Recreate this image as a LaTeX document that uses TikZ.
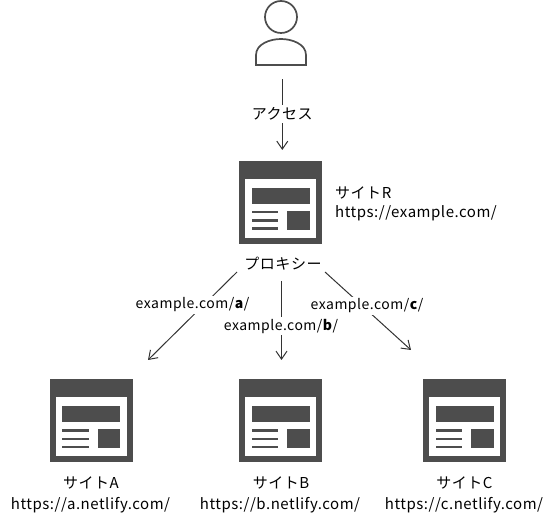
\documentclass[tikz,border=0pt]{standalone}
\usepackage{fontspec}
\setmainfont[LetterSpace=3.5]{Noto Sans CJK JP}
\usepackage{xcolor}
\usetikzlibrary{arrows.meta}
\definecolor{icongray}{HTML}{4D4D4D}
\definecolor{linegray}{HTML}{333333}
\tikzset{
  sitebox/.style={minimum width=83pt, minimum height=83pt, inner sep=0pt, outer sep=0pt},
  sitetext/.style={inner sep=0pt, yshift=-1.5pt, font=\fontsize{15}{18}\selectfont},
  pathlabel/.style={fill=white, inner sep=0pt, yshift=-1pt, minimum height=18pt, font=\fontsize{14}{17}\selectfont},
  connector/.style={draw=linegray, line width=1pt},
  arrowline/.style={connector, -{Straight Barb[length=8pt,width=11pt]}},
  sitepic/.pic={
    \fill[icongray] (-41.5,-41.5) rectangle (41.5,41.5);
    \fill[white] (-35.5,-23.5) rectangle (35.5,35.5);
    \fill[icongray] (-29,-14.5) rectangle (29,1.5);
    \fill[icongray] (6.5,8.5) rectangle (29,27.5);
    \fill[icongray] (-29,8.5) rectangle (-2.5,11);
    \fill[icongray] (-29,16.7) rectangle (-2.5,19.2);
    \fill[icongray] (-29,25) rectangle (-2.5,27.5);
  }
}
\begin{document}
\begin{tikzpicture}[x=1pt, y=-1pt]
  \useasboundingbox (0,0) rectangle (555,526);

  % Person
  \node[minimum width=50pt, minimum height=65pt, inner sep=0pt, outer sep=0pt] (user) at (282.3,33) {};
  \draw[icongray, line width=1.7pt] (281,17) circle (16);
  \draw[icongray, line width=1.7pt] (256,65) -- (256,55)
    .. controls (256,44) and (270,39) .. (281,39)
    .. controls (292,39) and (306,44) .. (306,55) -- (306,65) -- cycle;

  % Sites
  \node[sitebox] (siteR) at (280.5,202.5) {};
  \node[sitebox] (siteA) at (91,421) {};
  \node[sitebox] (siteB) at (280.5,421) {};
  \node[sitebox] (siteC) at (464.5,421) {};
  \pic at (siteR) {sitepic};
  \pic at (siteA) {sitepic};
  \pic at (siteB) {sitepic};
  \pic at (siteC) {sitepic};

  % Ends of the arrows
  \node[minimum width=88pt, minimum height=18pt, inner sep=0pt, outer sep=0pt] (proxybox) at (281,263) {};
  \coordinate (endA) at (148,360);
  \coordinate (endB) at (281.5,360);
  \coordinate (endC) at (411,350);

  % Connectors
  \draw[arrowline, shorten <=14pt, shorten >=11pt] (user.south) -- (siteR.north -| user.south);
  \draw[arrowline] (proxybox.south west) -- (endA);
  \draw[arrowline, shorten <=9pt] (proxybox.south -| endB) -- (endB);
  \draw[arrowline] (proxybox.south east) -- (endC);

  % Labels on the connectors
  \node[pathlabel, font=\fontsize{15}{18}\selectfont] (access) at (282.3,113) {アクセス};
  \node[pathlabel] (pathA) at (192.5,304) {example.com/\textbf{a}/};
  \node[pathlabel] (pathB) at (281,325.5) {example.com/\textbf{b}/};
  \node[pathlabel] (pathC) at (367,305) {example.com/\textbf{c}/};

  % Site texts
  \node[sitetext] (proxy) at (283,262) {プロキシー};
  \node[sitetext, anchor=west] (nameR) at (335,191) {サイトR};
  \node[sitetext, anchor=west] (urlR) at (335,212) {https://example.com/};
  \node[sitetext] (nameA) at (91,481) {サイトA};
  \node[sitetext] (urlA) at (90.5,504) {https://a.netlify.com/};
  \node[sitetext] (nameB) at (281,481) {サイトB};
  \node[sitetext] (urlB) at (280,504) {https://b.netlify.com/};
  \node[sitetext] (nameC) at (464.5,481) {サイトC};
  \node[sitetext] (urlC) at (464,504) {https://c.netlify.com/};
\end{tikzpicture}
\end{document}
